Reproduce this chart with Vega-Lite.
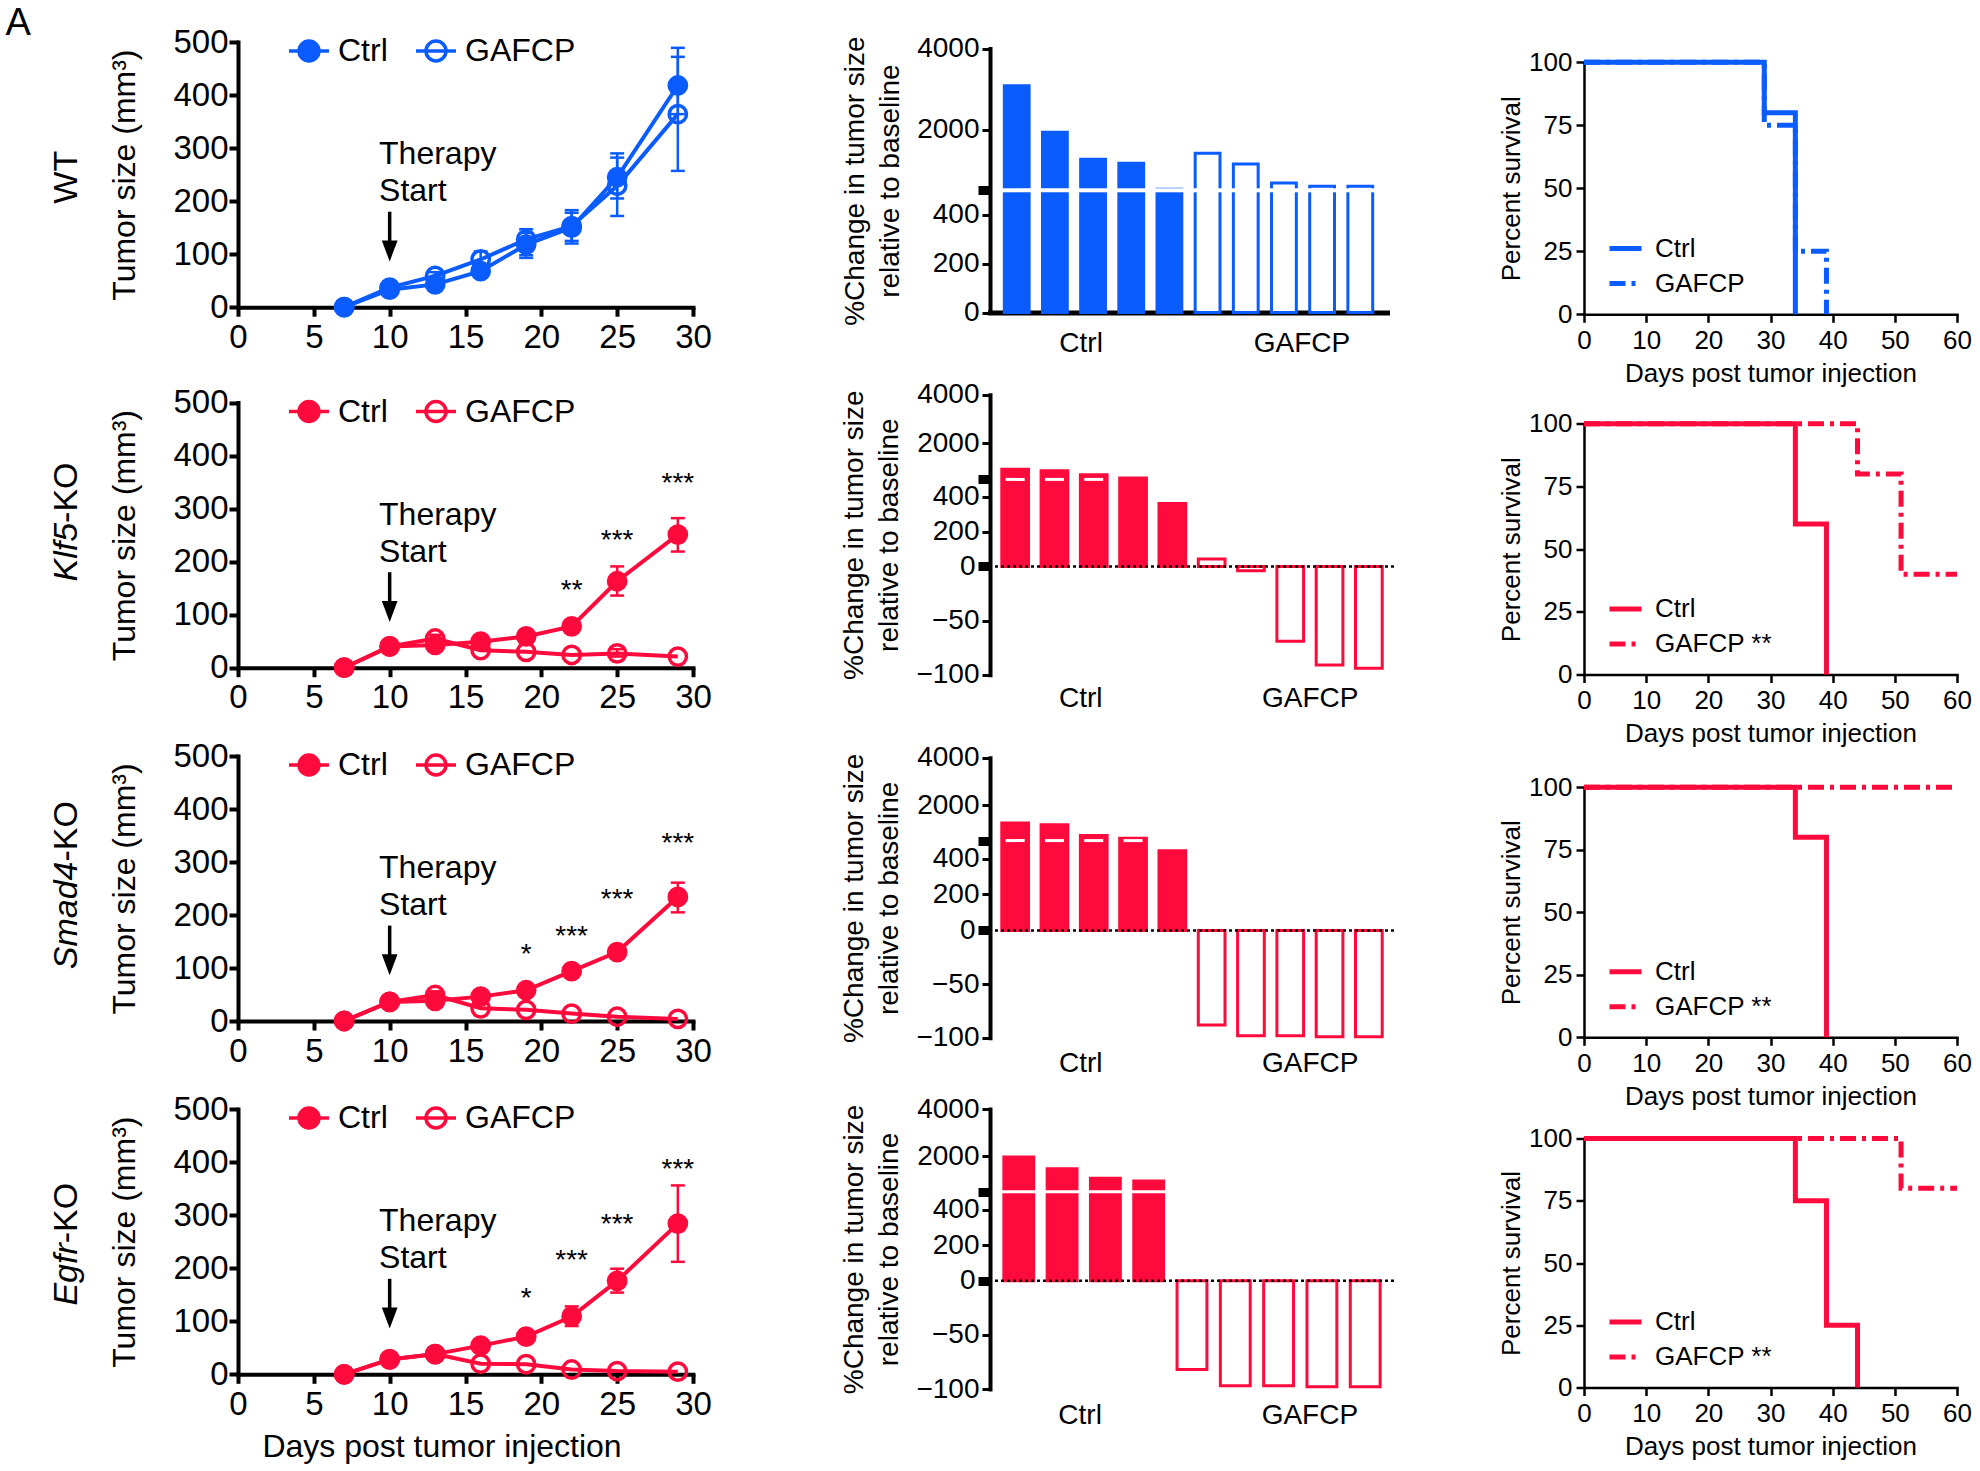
{
 "$schema": "https://vega.github.io/schema/vega-lite/v6.json",
 "padding": {"left": 5, "top": 5, "right": 5, "bottom": 5},
 "background": "white",
 "config": {
  "view": {"stroke": null},
  "font": "Liberation Sans",
  "axis": {"grid": false, "labelFont": "Liberation Sans", "titleFont": "Liberation Sans", "titleFontWeight": "normal", "labelColor": "black", "titleColor": "black", "domainColor": "black", "tickColor": "black", "domainCap": "square", "labelOverlap": false},
  "legend": {"labelFont": "Liberation Sans", "labelColor": "black"},
  "text": {"font": "Liberation Sans", "color": "black"}
 },
 "spacing": 128,
 "resolve": {"scale": {"fill": "independent", "stroke": "independent", "strokeDash": "independent", "color": "independent"}, "legend": {"fill": "independent", "stroke": "independent", "strokeDash": "independent", "color": "independent"}},
 "hconcat": [
  {
   "spacing": 25,
   "resolve": {"scale": {"fill": "independent", "stroke": "independent", "strokeDash": "independent", "color": "independent"}, "legend": {"fill": "independent", "stroke": "independent", "strokeDash": "independent", "color": "independent"}},
   "vconcat": [
    {
     "width": 455, "height": 265.2,
     "data": {"values": [
      {"day": 7, "series": "Ctrl", "mean": 0},
      {"day": 10, "series": "Ctrl", "mean": 33},
      {"day": 13, "series": "Ctrl", "mean": 43, "lo": 36, "hi": 50},
      {"day": 16, "series": "Ctrl", "mean": 68, "lo": 60, "hi": 78},
      {"day": 19, "series": "Ctrl", "mean": 118, "lo": 98, "hi": 140},
      {"day": 22, "series": "Ctrl", "mean": 150, "lo": 125, "hi": 178},
      {"day": 25, "series": "Ctrl", "mean": 245, "lo": 205, "hi": 290},
      {"day": 29, "series": "Ctrl", "mean": 418, "lo": 364, "hi": 472},
      {"day": 7, "series": "GAFCP", "mean": 0},
      {"day": 10, "series": "GAFCP", "mean": 37},
      {"day": 13, "series": "GAFCP", "mean": 59, "lo": 52, "hi": 66},
      {"day": 16, "series": "GAFCP", "mean": 90, "lo": 76, "hi": 105},
      {"day": 19, "series": "GAFCP", "mean": 128, "lo": 93, "hi": 147},
      {"day": 22, "series": "GAFCP", "mean": 153, "lo": 120, "hi": 183},
      {"day": 25, "series": "GAFCP", "mean": 229, "lo": 172, "hi": 282},
      {"day": 29, "series": "GAFCP", "mean": 364, "lo": 257, "hi": 489}
     ]},
     "layer": [
      {"transform": [{"filter": "isValid(datum.lo)"}],
       "mark": {"type": "rule", "color": "#0B5CFF", "strokeWidth": 2.5},
       "encoding": {
        "x": {"field": "day", "type": "quantitative", "scale": {"domain": [0, 30], "nice": false}, "axis": {"values": [0, 5, 10, 15, 20, 25, 30], "title": null, "domainWidth": 4, "tickWidth": 4, "tickSize": 9, "labelFontSize": 33, "labelPadding": 5, "labelFlush": false}},
        "y": {"field": "lo", "type": "quantitative", "scale": {"domain": [0, 500], "nice": false}, "axis": {"values": [0, 100, 200, 300, 400, 500], "title": "Tumor size (mm³)", "domainWidth": 4, "tickWidth": 4, "tickSize": 9, "labelFontSize": 33, "labelPadding": 1, "titleFontSize": 32, "titlePadding": 31}},
        "y2": {"field": "hi"}}},
      {"transform": [{"filter": "isValid(datum.lo)"}],
       "mark": {"type": "tick", "orient": "horizontal", "color": "#0B5CFF", "thickness": 2.5, "size": 14, "opacity": 1},
       "encoding": {"x": {"field": "day", "type": "quantitative"}, "y": {"field": "lo", "type": "quantitative"}}},
      {"transform": [{"filter": "isValid(datum.lo)"}],
       "mark": {"type": "tick", "orient": "horizontal", "color": "#0B5CFF", "thickness": 2.5, "size": 14, "opacity": 1},
       "encoding": {"x": {"field": "day", "type": "quantitative"}, "y": {"field": "hi", "type": "quantitative"}}},
      {"mark": {"type": "line", "color": "#0B5CFF", "strokeWidth": 4},
       "encoding": {"x": {"field": "day", "type": "quantitative"}, "y": {"field": "mean", "type": "quantitative"}, "detail": {"field": "series"}}},
      {"mark": {"type": "point", "shape": "circle", "size": 300, "strokeWidth": 3.5, "opacity": 1},
       "encoding": {"x": {"field": "day", "type": "quantitative"}, "y": {"field": "mean", "type": "quantitative"},
        "fill": {"field": "series", "type": "nominal", "scale": {"domain": ["Ctrl", "GAFCP"], "range": ["#0B5CFF", "transparent"]}, "legend": {"orient": "none", "legendX": 55, "legendY": -7, "direction": "horizontal", "columns": 2, "title": null, "labelFontSize": 32, "symbolType": "M-2,0L2,0M-1,0A1,1,0,1,1,1,0A1,1,0,1,1,-1,0", "symbolSize": 400, "symbolStrokeWidth": 3.5, "labelOffset": 13, "columnPadding": 21, "padding": 0, "labelLimit": 0}},
        "stroke": {"field": "series", "type": "nominal", "scale": {"domain": ["Ctrl", "GAFCP"], "range": ["#0B5CFF", "#0B5CFF"]}, "legend": {"orient": "none", "legendX": 55, "legendY": -7, "direction": "horizontal", "columns": 2, "title": null, "labelFontSize": 32, "symbolType": "M-2,0L2,0M-1,0A1,1,0,1,1,1,0A1,1,0,1,1,-1,0", "symbolSize": 400, "symbolStrokeWidth": 3.5, "labelOffset": 13, "columnPadding": 21, "padding": 0, "labelLimit": 0}}}},
      {"data": {"values": [{"t": "Therapy Start"}]},
       "mark": {"type": "text", "align": "left", "baseline": "middle", "fontSize": 32, "lineHeight": 37, "text": ["Therapy", "Start"]},
       "encoding": {"x": {"datum": 9.3}, "y": {"datum": 288}}},
      {"data": {"values": [{"t": "arrow"}]},
       "mark": {"type": "rule", "strokeWidth": 3.5, "color": "black"},
       "encoding": {"x": {"datum": 10}, "y": {"datum": 180}, "y2": {"datum": 115}}},
      {"data": {"values": [{"t": "arrow"}]},
       "mark": {"type": "point", "shape": "M-0.75,-1L0.75,-1L0,1Z", "size": 441, "filled": true, "color": "black", "opacity": 1},
       "encoding": {"x": {"datum": 10}, "y": {"datum": 106}}},
      {"data": {"values": [{"label": "WT"}]},
       "mark": {"type": "text", "angle": 270, "fontSize": 34, "align": "center", "baseline": "middle"},
       "encoding": {"x": {"datum": -11.3}, "y": {"datum": 245}, "text": {"field": "label"}}},
      {"data": {"values": [{"label": "A"}]},
       "mark": {"type": "text", "fontSize": 38, "align": "left", "baseline": "top"},
       "encoding": {"x": {"datum": -15.33}, "y": {"datum": 569}, "text": {"field": "label"}}}
     ]
    },
    {
     "width": 455, "height": 287.7,
     "data": {"values": [
      {"day": 7, "series": "Ctrl", "mean": 0},
      {"day": 10, "series": "Ctrl", "mean": 40},
      {"day": 13, "series": "Ctrl", "mean": 43},
      {"day": 16, "series": "Ctrl", "mean": 49},
      {"day": 19, "series": "Ctrl", "mean": 59, "lo": 52, "hi": 66},
      {"day": 22, "series": "Ctrl", "mean": 78, "lo": 70, "hi": 86},
      {"day": 25, "series": "Ctrl", "mean": 163, "lo": 136, "hi": 191},
      {"day": 29, "series": "Ctrl", "mean": 251, "lo": 219, "hi": 282},
      {"day": 7, "series": "GAFCP", "mean": 0},
      {"day": 10, "series": "GAFCP", "mean": 40},
      {"day": 13, "series": "GAFCP", "mean": 55, "lo": 48, "hi": 62},
      {"day": 16, "series": "GAFCP", "mean": 33},
      {"day": 19, "series": "GAFCP", "mean": 30},
      {"day": 22, "series": "GAFCP", "mean": 24},
      {"day": 25, "series": "GAFCP", "mean": 27, "lo": 21, "hi": 35},
      {"day": 29, "series": "GAFCP", "mean": 21}
     ]},
     "layer": [
      {"transform": [{"filter": "isValid(datum.lo)"}],
       "mark": {"type": "rule", "color": "#FF0A3C", "strokeWidth": 2.5},
       "encoding": {
        "x": {"field": "day", "type": "quantitative", "scale": {"domain": [0, 30], "nice": false}, "axis": {"values": [0, 5, 10, 15, 20, 25, 30], "title": null, "domainWidth": 4, "tickWidth": 4, "tickSize": 9, "labelFontSize": 33, "labelPadding": 5, "labelFlush": false}},
        "y": {"field": "lo", "type": "quantitative", "scale": {"domain": [0, 500], "nice": false, "range": [287.7, 22.5]}, "axis": {"values": [0, 100, 200, 300, 400, 500], "title": "Tumor size (mm³)", "domainWidth": 4, "tickWidth": 4, "tickSize": 9, "labelFontSize": 33, "labelPadding": 1, "titleFontSize": 32, "titlePadding": 31}},
        "y2": {"field": "hi"}}},
      {"transform": [{"filter": "isValid(datum.lo)"}],
       "mark": {"type": "tick", "orient": "horizontal", "color": "#FF0A3C", "thickness": 2.5, "size": 14, "opacity": 1},
       "encoding": {"x": {"field": "day", "type": "quantitative"}, "y": {"field": "lo", "type": "quantitative"}}},
      {"transform": [{"filter": "isValid(datum.lo)"}],
       "mark": {"type": "tick", "orient": "horizontal", "color": "#FF0A3C", "thickness": 2.5, "size": 14, "opacity": 1},
       "encoding": {"x": {"field": "day", "type": "quantitative"}, "y": {"field": "hi", "type": "quantitative"}}},
      {"mark": {"type": "line", "color": "#FF0A3C", "strokeWidth": 4},
       "encoding": {"x": {"field": "day", "type": "quantitative"}, "y": {"field": "mean", "type": "quantitative"}, "detail": {"field": "series"}}},
      {"mark": {"type": "point", "shape": "circle", "size": 300, "strokeWidth": 3.5, "opacity": 1},
       "encoding": {"x": {"field": "day", "type": "quantitative"}, "y": {"field": "mean", "type": "quantitative"},
        "fill": {"field": "series", "type": "nominal", "scale": {"domain": ["Ctrl", "GAFCP"], "range": ["#FF0A3C", "transparent"]}, "legend": {"orient": "none", "legendX": 55, "legendY": 15.5, "direction": "horizontal", "columns": 2, "title": null, "labelFontSize": 32, "symbolType": "M-2,0L2,0M-1,0A1,1,0,1,1,1,0A1,1,0,1,1,-1,0", "symbolSize": 400, "symbolStrokeWidth": 3.5, "labelOffset": 13, "columnPadding": 21, "padding": 0, "labelLimit": 0}},
        "stroke": {"field": "series", "type": "nominal", "scale": {"domain": ["Ctrl", "GAFCP"], "range": ["#FF0A3C", "#FF0A3C"]}, "legend": {"orient": "none", "legendX": 55, "legendY": 15.5, "direction": "horizontal", "columns": 2, "title": null, "labelFontSize": 32, "symbolType": "M-2,0L2,0M-1,0A1,1,0,1,1,1,0A1,1,0,1,1,-1,0", "symbolSize": 400, "symbolStrokeWidth": 3.5, "labelOffset": 13, "columnPadding": 21, "padding": 0, "labelLimit": 0}}}},
      {"data": {"values": [{"day": 22, "sy": 130, "label": "**"}, {"day": 25, "sy": 224, "label": "***"}, {"day": 29, "sy": 331, "label": "***"}]},
       "mark": {"type": "text", "fontSize": 28, "align": "center", "baseline": "alphabetic"},
       "encoding": {"x": {"field": "day", "type": "quantitative"}, "y": {"field": "sy", "type": "quantitative"}, "text": {"field": "label"}}},
      {"data": {"values": [{"t": "Therapy Start"}]},
       "mark": {"type": "text", "align": "left", "baseline": "middle", "fontSize": 32, "lineHeight": 37, "text": ["Therapy", "Start"]},
       "encoding": {"x": {"datum": 9.3}, "y": {"datum": 288}}},
      {"data": {"values": [{"t": "arrow"}]},
       "mark": {"type": "rule", "strokeWidth": 3.5, "color": "black"},
       "encoding": {"x": {"datum": 10}, "y": {"datum": 180}, "y2": {"datum": 115}}},
      {"data": {"values": [{"t": "arrow"}]},
       "mark": {"type": "point", "shape": "M-0.75,-1L0.75,-1L0,1Z", "size": 441, "filled": true, "color": "black", "opacity": 1},
       "encoding": {"x": {"datum": 10}, "y": {"datum": 106}}},
      {"data": {"values": [{"label": "Klf5"}]},
       "mark": {"type": "text", "angle": 270, "fontSize": 34, "fontStyle": "italic", "align": "right", "baseline": "middle"},
       "encoding": {"x": {"datum": -11.3}, "y": {"datum": 273}, "text": {"field": "label"}}},
      {"data": {"values": [{"label": "-KO"}]},
       "mark": {"type": "text", "angle": 270, "fontSize": 34, "align": "left", "baseline": "middle"},
       "encoding": {"x": {"datum": -11.3}, "y": {"datum": 273}, "text": {"field": "label"}}}
     ]
    },
    {
     "width": 455, "height": 265,
     "data": {"values": [
      {"day": 7, "series": "Ctrl", "mean": 0},
      {"day": 10, "series": "Ctrl", "mean": 36},
      {"day": 13, "series": "Ctrl", "mean": 38},
      {"day": 16, "series": "Ctrl", "mean": 46},
      {"day": 19, "series": "Ctrl", "mean": 58, "lo": 50, "hi": 66},
      {"day": 22, "series": "Ctrl", "mean": 94, "lo": 86, "hi": 102},
      {"day": 25, "series": "Ctrl", "mean": 130, "lo": 121, "hi": 139},
      {"day": 29, "series": "Ctrl", "mean": 234, "lo": 205, "hi": 261},
      {"day": 7, "series": "GAFCP", "mean": 0},
      {"day": 10, "series": "GAFCP", "mean": 36},
      {"day": 13, "series": "GAFCP", "mean": 49, "lo": 42, "hi": 56},
      {"day": 16, "series": "GAFCP", "mean": 24},
      {"day": 19, "series": "GAFCP", "mean": 21},
      {"day": 22, "series": "GAFCP", "mean": 14},
      {"day": 25, "series": "GAFCP", "mean": 8},
      {"day": 29, "series": "GAFCP", "mean": 4}
     ]},
     "layer": [
      {"transform": [{"filter": "isValid(datum.lo)"}],
       "mark": {"type": "rule", "color": "#FF0A3C", "strokeWidth": 2.5},
       "encoding": {
        "x": {"field": "day", "type": "quantitative", "scale": {"domain": [0, 30], "nice": false}, "axis": {"values": [0, 5, 10, 15, 20, 25, 30], "title": null, "domainWidth": 4, "tickWidth": 4, "tickSize": 9, "labelFontSize": 33, "labelPadding": 5, "labelFlush": false}},
        "y": {"field": "lo", "type": "quantitative", "scale": {"domain": [0, 500], "nice": false}, "axis": {"values": [0, 100, 200, 300, 400, 500], "title": "Tumor size (mm³)", "domainWidth": 4, "tickWidth": 4, "tickSize": 9, "labelFontSize": 33, "labelPadding": 1, "titleFontSize": 32, "titlePadding": 31}},
        "y2": {"field": "hi"}}},
      {"transform": [{"filter": "isValid(datum.lo)"}],
       "mark": {"type": "tick", "orient": "horizontal", "color": "#FF0A3C", "thickness": 2.5, "size": 14, "opacity": 1},
       "encoding": {"x": {"field": "day", "type": "quantitative"}, "y": {"field": "lo", "type": "quantitative"}}},
      {"transform": [{"filter": "isValid(datum.lo)"}],
       "mark": {"type": "tick", "orient": "horizontal", "color": "#FF0A3C", "thickness": 2.5, "size": 14, "opacity": 1},
       "encoding": {"x": {"field": "day", "type": "quantitative"}, "y": {"field": "hi", "type": "quantitative"}}},
      {"mark": {"type": "line", "color": "#FF0A3C", "strokeWidth": 4},
       "encoding": {"x": {"field": "day", "type": "quantitative"}, "y": {"field": "mean", "type": "quantitative"}, "detail": {"field": "series"}}},
      {"mark": {"type": "point", "shape": "circle", "size": 300, "strokeWidth": 3.5, "opacity": 1},
       "encoding": {"x": {"field": "day", "type": "quantitative"}, "y": {"field": "mean", "type": "quantitative"},
        "fill": {"field": "series", "type": "nominal", "scale": {"domain": ["Ctrl", "GAFCP"], "range": ["#FF0A3C", "transparent"]}, "legend": {"orient": "none", "legendX": 55, "legendY": -7, "direction": "horizontal", "columns": 2, "title": null, "labelFontSize": 32, "symbolType": "M-2,0L2,0M-1,0A1,1,0,1,1,1,0A1,1,0,1,1,-1,0", "symbolSize": 400, "symbolStrokeWidth": 3.5, "labelOffset": 13, "columnPadding": 21, "padding": 0, "labelLimit": 0}},
        "stroke": {"field": "series", "type": "nominal", "scale": {"domain": ["Ctrl", "GAFCP"], "range": ["#FF0A3C", "#FF0A3C"]}, "legend": {"orient": "none", "legendX": 55, "legendY": -7, "direction": "horizontal", "columns": 2, "title": null, "labelFontSize": 32, "symbolType": "M-2,0L2,0M-1,0A1,1,0,1,1,1,0A1,1,0,1,1,-1,0", "symbolSize": 400, "symbolStrokeWidth": 3.5, "labelOffset": 13, "columnPadding": 21, "padding": 0, "labelLimit": 0}}}},
      {"data": {"values": [{"day": 19, "sy": 110, "label": "*"}, {"day": 22, "sy": 144, "label": "***"}, {"day": 25, "sy": 213, "label": "***"}, {"day": 29, "sy": 318, "label": "***"}]},
       "mark": {"type": "text", "fontSize": 28, "align": "center", "baseline": "alphabetic"},
       "encoding": {"x": {"field": "day", "type": "quantitative"}, "y": {"field": "sy", "type": "quantitative"}, "text": {"field": "label"}}},
      {"data": {"values": [{"t": "Therapy Start"}]},
       "mark": {"type": "text", "align": "left", "baseline": "middle", "fontSize": 32, "lineHeight": 37, "text": ["Therapy", "Start"]},
       "encoding": {"x": {"datum": 9.3}, "y": {"datum": 288}}},
      {"data": {"values": [{"t": "arrow"}]},
       "mark": {"type": "rule", "strokeWidth": 3.5, "color": "black"},
       "encoding": {"x": {"datum": 10}, "y": {"datum": 180}, "y2": {"datum": 115}}},
      {"data": {"values": [{"t": "arrow"}]},
       "mark": {"type": "point", "shape": "M-0.75,-1L0.75,-1L0,1Z", "size": 441, "filled": true, "color": "black", "opacity": 1},
       "encoding": {"x": {"datum": 10}, "y": {"datum": 106}}},
      {"data": {"values": [{"label": "Smad4"}]},
       "mark": {"type": "text", "angle": 270, "fontSize": 34, "fontStyle": "italic", "align": "right", "baseline": "middle"},
       "encoding": {"x": {"datum": -11.3}, "y": {"datum": 301}, "text": {"field": "label"}}},
      {"data": {"values": [{"label": "-KO"}]},
       "mark": {"type": "text", "angle": 270, "fontSize": 34, "align": "left", "baseline": "middle"},
       "encoding": {"x": {"datum": -11.3}, "y": {"datum": 301}, "text": {"field": "label"}}}
     ]
    },
    {
     "width": 455, "height": 265.3,
     "data": {"values": [
      {"day": 7, "series": "Ctrl", "mean": 0},
      {"day": 10, "series": "Ctrl", "mean": 28},
      {"day": 13, "series": "Ctrl", "mean": 38, "lo": 31, "hi": 45},
      {"day": 16, "series": "Ctrl", "mean": 54, "lo": 46, "hi": 62},
      {"day": 19, "series": "Ctrl", "mean": 71, "lo": 63, "hi": 79},
      {"day": 22, "series": "Ctrl", "mean": 109, "lo": 91, "hi": 128},
      {"day": 25, "series": "Ctrl", "mean": 176, "lo": 154, "hi": 199},
      {"day": 29, "series": "Ctrl", "mean": 284, "lo": 212, "hi": 356},
      {"day": 7, "series": "GAFCP", "mean": 0},
      {"day": 10, "series": "GAFCP", "mean": 28},
      {"day": 13, "series": "GAFCP", "mean": 38},
      {"day": 16, "series": "GAFCP", "mean": 20},
      {"day": 19, "series": "GAFCP", "mean": 19},
      {"day": 22, "series": "GAFCP", "mean": 9},
      {"day": 25, "series": "GAFCP", "mean": 6},
      {"day": 29, "series": "GAFCP", "mean": 5}
     ]},
     "layer": [
      {"transform": [{"filter": "isValid(datum.lo)"}],
       "mark": {"type": "rule", "color": "#FF0A3C", "strokeWidth": 2.5},
       "encoding": {
        "x": {"field": "day", "type": "quantitative", "scale": {"domain": [0, 30], "nice": false}, "axis": {"values": [0, 5, 10, 15, 20, 25, 30], "title": "Days post tumor injection", "titleFontSize": 32, "titlePadding": 10, "titleX": 203.5, "domainWidth": 4, "tickWidth": 4, "tickSize": 9, "labelFontSize": 33, "labelPadding": 5, "labelFlush": false}},
        "y": {"field": "lo", "type": "quantitative", "scale": {"domain": [0, 500], "nice": false}, "axis": {"values": [0, 100, 200, 300, 400, 500], "title": "Tumor size (mm³)", "domainWidth": 4, "tickWidth": 4, "tickSize": 9, "labelFontSize": 33, "labelPadding": 1, "titleFontSize": 32, "titlePadding": 31}},
        "y2": {"field": "hi"}}},
      {"transform": [{"filter": "isValid(datum.lo)"}],
       "mark": {"type": "tick", "orient": "horizontal", "color": "#FF0A3C", "thickness": 2.5, "size": 14, "opacity": 1},
       "encoding": {"x": {"field": "day", "type": "quantitative"}, "y": {"field": "lo", "type": "quantitative"}}},
      {"transform": [{"filter": "isValid(datum.lo)"}],
       "mark": {"type": "tick", "orient": "horizontal", "color": "#FF0A3C", "thickness": 2.5, "size": 14, "opacity": 1},
       "encoding": {"x": {"field": "day", "type": "quantitative"}, "y": {"field": "hi", "type": "quantitative"}}},
      {"mark": {"type": "line", "color": "#FF0A3C", "strokeWidth": 4},
       "encoding": {"x": {"field": "day", "type": "quantitative"}, "y": {"field": "mean", "type": "quantitative"}, "detail": {"field": "series"}}},
      {"mark": {"type": "point", "shape": "circle", "size": 300, "strokeWidth": 3.5, "opacity": 1},
       "encoding": {"x": {"field": "day", "type": "quantitative"}, "y": {"field": "mean", "type": "quantitative"},
        "fill": {"field": "series", "type": "nominal", "scale": {"domain": ["Ctrl", "GAFCP"], "range": ["#FF0A3C", "transparent"]}, "legend": {"orient": "none", "legendX": 55, "legendY": -7, "direction": "horizontal", "columns": 2, "title": null, "labelFontSize": 32, "symbolType": "M-2,0L2,0M-1,0A1,1,0,1,1,1,0A1,1,0,1,1,-1,0", "symbolSize": 400, "symbolStrokeWidth": 3.5, "labelOffset": 13, "columnPadding": 21, "padding": 0, "labelLimit": 0}},
        "stroke": {"field": "series", "type": "nominal", "scale": {"domain": ["Ctrl", "GAFCP"], "range": ["#FF0A3C", "#FF0A3C"]}, "legend": {"orient": "none", "legendX": 55, "legendY": -7, "direction": "horizontal", "columns": 2, "title": null, "labelFontSize": 32, "symbolType": "M-2,0L2,0M-1,0A1,1,0,1,1,1,0A1,1,0,1,1,-1,0", "symbolSize": 400, "symbolStrokeWidth": 3.5, "labelOffset": 13, "columnPadding": 21, "padding": 0, "labelLimit": 0}}}},
      {"data": {"values": [{"day": 19, "sy": 127, "label": "*"}, {"day": 22, "sy": 198, "label": "***"}, {"day": 25, "sy": 266, "label": "***"}, {"day": 29, "sy": 370, "label": "***"}]},
       "mark": {"type": "text", "fontSize": 28, "align": "center", "baseline": "alphabetic"},
       "encoding": {"x": {"field": "day", "type": "quantitative"}, "y": {"field": "sy", "type": "quantitative"}, "text": {"field": "label"}}},
      {"data": {"values": [{"t": "Therapy Start"}]},
       "mark": {"type": "text", "align": "left", "baseline": "middle", "fontSize": 32, "lineHeight": 37, "text": ["Therapy", "Start"]},
       "encoding": {"x": {"datum": 9.3}, "y": {"datum": 288}}},
      {"data": {"values": [{"t": "arrow"}]},
       "mark": {"type": "rule", "strokeWidth": 3.5, "color": "black"},
       "encoding": {"x": {"datum": 10}, "y": {"datum": 180}, "y2": {"datum": 115}}},
      {"data": {"values": [{"t": "arrow"}]},
       "mark": {"type": "point", "shape": "M-0.75,-1L0.75,-1L0,1Z", "size": 441, "filled": true, "color": "black", "opacity": 1},
       "encoding": {"x": {"datum": 10}, "y": {"datum": 106}}},
      {"data": {"values": [{"label": "Egfr"}]},
       "mark": {"type": "text", "angle": 270, "fontSize": 34, "fontStyle": "italic", "align": "right", "baseline": "middle"},
       "encoding": {"x": {"datum": -11.3}, "y": {"datum": 247}, "text": {"field": "label"}}},
      {"data": {"values": [{"label": "-KO"}]},
       "mark": {"type": "text", "angle": 270, "fontSize": 34, "align": "left", "baseline": "middle"},
       "encoding": {"x": {"datum": -11.3}, "y": {"datum": 247}, "text": {"field": "label"}}}
     ]
    }
   ]
  },
  {
   "spacing": 102,
   "resolve": {"scale": {"fill": "independent", "stroke": "independent", "strokeDash": "independent", "color": "independent"}, "legend": {"fill": "independent", "stroke": "independent", "strokeDash": "independent", "color": "independent"}},
   "hconcat": [
    {
     "spacing": 17,
     "resolve": {"scale": {"fill": "independent", "stroke": "independent", "strokeDash": "independent", "color": "independent"}, "legend": {"fill": "independent", "stroke": "independent", "strokeDash": "independent", "color": "independent"}},
     "vconcat": [
      {
       "width": 397, "height": 270.6,
       "data": {"values": [
        {"id": "c1", "group": "Ctrl", "value": 3083}, {"id": "c2", "group": "Ctrl", "value": 1933}, {"id": "c3", "group": "Ctrl", "value": 1267}, {"id": "c4", "group": "Ctrl", "value": 1167}, {"id": "c5", "group": "Ctrl", "value": 525},
        {"id": "g1", "group": "GAFCP", "value": 1417}, {"id": "g2", "group": "GAFCP", "value": 1150}, {"id": "g3", "group": "GAFCP", "value": 683}, {"id": "g4", "group": "GAFCP", "value": 600}, {"id": "g5", "group": "GAFCP", "value": 600}
       ]},
       "layer": [
        {"mark": {"type": "bar", "stroke": "#0B5CFF", "strokeWidth": 3},
         "encoding": {
          "x": {"field": "id", "type": "nominal", "sort": null, "scale": {"paddingInner": 0.35, "paddingOuter": 0.375}, "axis": {"title": null, "ticks": false, "tickSize": 0, "domainWidth": 5, "labelAngle": 0, "labelFontSize": 28, "labelPadding": 17, "labelLimit": 0, "labelExpr": "datum.value == 'c3' ? 'Ctrl' : datum.value == 'g3' ? 'GAFCP' : ''", "labelOffset": {"condition": {"test": "datum.value == 'c3'", "value": -12}, "value": 18}}},
          "y": {"field": "value", "type": "quantitative", "scale": {"domain": [0, 500, 4000], "range": [270.6, 148.3, 6.6], "nice": false, "zero": false}, "axis": {"values": [0, 200, 400, 500, 2000, 4000], "tickCount": 20, "format": "d", "labelOverlap": false, "labelExpr": "datum.value == 500 ? '' : datum.label", "title": ["%Change in tumor size", "relative to baseline"], "titleFontSize": 28, "titleLineHeight": 35, "titlePadding": 12, "domainWidth": 4, "tickWidth": {"condition": {"test": "datum.value == 500", "value": 9}, "value": 3}, "tickSize": {"condition": {"test": "datum.value == 500", "value": 12}, "value": 8}, "labelFontSize": 28, "labelPadding": 3}},
          "y2": {"datum": 0},
          "fill": {"field": "group", "type": "nominal", "scale": {"domain": ["Ctrl", "GAFCP"], "range": ["#0B5CFF", "white"]}, "legend": null}}},
        {"transform": [{"filter": "datum.value > 500"}],
         "mark": {"type": "tick", "orient": "horizontal", "color": "white", "thickness": 4, "size": 30, "opacity": 1},
         "encoding": {"x": {"field": "id", "type": "nominal", "sort": null}, "y": {"datum": 500}}}
       ]
      },
      {
       "width": 404, "height": 299.7,
       "data": {"values": [
        {"id": "c1", "group": "Ctrl", "value": 923}, {"id": "c2", "group": "Ctrl", "value": 853}, {"id": "c3", "group": "Ctrl", "value": 688}, {"id": "c4", "group": "Ctrl", "value": 560}, {"id": "c5", "group": "Ctrl", "value": 361},
        {"id": "g1", "group": "GAFCP", "value": 43}, {"id": "g2", "group": "GAFCP", "value": -4}, {"id": "g3", "group": "GAFCP", "value": -69}, {"id": "g4", "group": "GAFCP", "value": -91}, {"id": "g5", "group": "GAFCP", "value": -94}
       ]},
       "layer": [
        {"mark": {"type": "bar", "stroke": "#FF0A3C", "strokeWidth": 3},
         "encoding": {
          "x": {"field": "id", "type": "nominal", "sort": null, "scale": {"paddingInner": 0.32, "paddingOuter": 0.3}, "axis": {"title": null, "ticks": false, "tickSize": 0, "domain": false, "labelAngle": 0, "labelFontSize": 28, "labelPadding": 10, "labelLimit": 0, "labelExpr": "datum.value == 'c3' ? 'Ctrl' : datum.value == 'g3' ? 'GAFCP' : ''", "labelOffset": {"condition": {"test": "datum.value == 'c3'", "value": -13}, "value": 20}}},
          "y": {"field": "value", "type": "quantitative", "scale": {"domain": [-100, 0, 500, 4000], "range": [299.7, 191.4, 104.4, 19.7], "nice": false, "zero": false}, "axis": {"values": [-100, -50, 0, 200, 400, 500, 2000, 4000], "tickCount": 20, "format": "d", "labelOverlap": false, "labelExpr": "datum.value == 500 ? '' : datum.label", "title": ["%Change in tumor size", "relative to baseline"], "titleFontSize": 28, "titleLineHeight": 35, "titlePadding": 12, "domainWidth": 4, "tickWidth": {"condition": {"test": "datum.value == 500 || datum.value == 0", "value": 9}, "value": 3}, "tickSize": {"condition": {"test": "datum.value == 500 || datum.value == 0", "value": 12}, "value": 8}, "labelFontSize": 28, "labelPadding": 3}},
          "y2": {"datum": 0},
          "fill": {"field": "group", "type": "nominal", "scale": {"domain": ["Ctrl", "GAFCP"], "range": ["#FF0A3C", "white"]}, "legend": null}}},
        {"transform": [{"filter": "datum.value > 600"}],
         "mark": {"type": "tick", "orient": "horizontal", "color": "white", "thickness": 3, "size": 19, "opacity": 1},
         "encoding": {"x": {"field": "id", "type": "nominal", "sort": null}, "y": {"datum": 500}}},
        {"data": {"values": [{"z": 0}]},
         "mark": {"type": "rule", "strokeDash": [3, 3], "strokeWidth": 2.5, "color": "black"},
         "encoding": {"y": {"datum": 0}}}
       ]
      },
      {
       "width": 404, "height": 307.8,
       "data": {"values": [
        {"id": "c1", "group": "Ctrl", "value": 1240}, {"id": "c2", "group": "Ctrl", "value": 1167}, {"id": "c3", "group": "Ctrl", "value": 712}, {"id": "c4", "group": "Ctrl", "value": 597}, {"id": "c5", "group": "Ctrl", "value": 443},
        {"id": "g1", "group": "GAFCP", "value": -88}, {"id": "g2", "group": "GAFCP", "value": -98}, {"id": "g3", "group": "GAFCP", "value": -98}, {"id": "g4", "group": "GAFCP", "value": -99}, {"id": "g5", "group": "GAFCP", "value": -99}
       ]},
       "layer": [
        {"mark": {"type": "bar", "stroke": "#FF0A3C", "strokeWidth": 3},
         "encoding": {
          "x": {"field": "id", "type": "nominal", "sort": null, "scale": {"paddingInner": 0.32, "paddingOuter": 0.3}, "axis": {"title": null, "ticks": false, "tickSize": 0, "domain": false, "labelAngle": 0, "labelFontSize": 28, "labelPadding": 12, "labelLimit": 0, "labelExpr": "datum.value == 'c3' ? 'Ctrl' : datum.value == 'g3' ? 'GAFCP' : ''", "labelOffset": {"condition": {"test": "datum.value == 'c3'", "value": -13}, "value": 20}}},
          "y": {"field": "value", "type": "quantitative", "scale": {"domain": [-100, 0, 500, 4000], "range": [307.8, 200.4, 110.6, 27.8], "nice": false, "zero": false}, "axis": {"values": [-100, -50, 0, 200, 400, 500, 2000, 4000], "tickCount": 20, "format": "d", "labelOverlap": false, "labelExpr": "datum.value == 500 ? '' : datum.label", "title": ["%Change in tumor size", "relative to baseline"], "titleFontSize": 28, "titleLineHeight": 35, "titlePadding": 12, "domainWidth": 4, "tickWidth": {"condition": {"test": "datum.value == 500 || datum.value == 0", "value": 9}, "value": 3}, "tickSize": {"condition": {"test": "datum.value == 500 || datum.value == 0", "value": 12}, "value": 8}, "labelFontSize": 28, "labelPadding": 3}},
          "y2": {"datum": 0},
          "fill": {"field": "group", "type": "nominal", "scale": {"domain": ["Ctrl", "GAFCP"], "range": ["#FF0A3C", "white"]}, "legend": null}}},
        {"transform": [{"filter": "datum.value > 550"}],
         "mark": {"type": "tick", "orient": "horizontal", "color": "white", "thickness": 3, "size": 19, "opacity": 1},
         "encoding": {"x": {"field": "id", "type": "nominal", "sort": null}, "y": {"datum": 500}}},
        {"data": {"values": [{"z": 0}]},
         "mark": {"type": "rule", "strokeDash": [3, 3], "strokeWidth": 2.5, "color": "black"},
         "encoding": {"y": {"datum": 0}}}
       ]
      },
      {
       "width": 404, "height": 280,
       "data": {"values": [
        {"id": "c1", "group": "Ctrl", "value": 1970}, {"id": "c2", "group": "Ctrl", "value": 1473}, {"id": "c3", "group": "Ctrl", "value": 1071}, {"id": "c4", "group": "Ctrl", "value": 958},
        {"id": "g1", "group": "GAFCP", "value": -82}, {"id": "g2", "group": "GAFCP", "value": -97}, {"id": "g3", "group": "GAFCP", "value": -97}, {"id": "g4", "group": "GAFCP", "value": -98}, {"id": "g5", "group": "GAFCP", "value": -98}
       ]},
       "layer": [
        {"mark": {"type": "bar", "stroke": "#FF0A3C", "strokeWidth": 3},
         "encoding": {
          "x": {"field": "id", "type": "nominal", "sort": null, "scale": {"paddingInner": 0.31, "paddingOuter": 0.32}, "axis": {"title": null, "ticks": false, "tickSize": 0, "domain": false, "labelAngle": 0, "labelFontSize": 28, "labelPadding": 12, "labelLimit": 0, "labelExpr": "datum.value == 'c2' ? 'Ctrl' : datum.value == 'g4' ? 'GAFCP' : ''", "labelOffset": {"condition": {"test": "datum.value == 'c2'", "value": 18}, "value": -12}}},
          "y": {"field": "value", "type": "quantitative", "scale": {"domain": [-100, 0, 500, 4000], "range": [280, 171.7, 82.7, 0], "nice": false, "zero": false}, "axis": {"values": [-100, -50, 0, 200, 400, 500, 2000, 4000], "tickCount": 20, "format": "d", "labelOverlap": false, "labelExpr": "datum.value == 500 ? '' : datum.label", "title": ["%Change in tumor size", "relative to baseline"], "titleFontSize": 28, "titleLineHeight": 35, "titlePadding": 12, "domainWidth": 4, "tickWidth": {"condition": {"test": "datum.value == 500 || datum.value == 0", "value": 9}, "value": 3}, "tickSize": {"condition": {"test": "datum.value == 500 || datum.value == 0", "value": 12}, "value": 8}, "labelFontSize": 28, "labelPadding": 3}},
          "y2": {"datum": 0},
          "fill": {"field": "group", "type": "nominal", "scale": {"domain": ["Ctrl", "GAFCP"], "range": ["#FF0A3C", "white"]}, "legend": null}}},
        {"transform": [{"filter": "datum.value > 500"}],
         "mark": {"type": "tick", "orient": "horizontal", "color": "white", "thickness": 3, "size": 34, "opacity": 1},
         "encoding": {"x": {"field": "id", "type": "nominal", "sort": null}, "y": {"datum": 500}}},
        {"data": {"values": [{"z": 0}]},
         "mark": {"type": "rule", "strokeDash": [3, 3], "strokeWidth": 2.5, "color": "black"},
         "encoding": {"y": {"datum": 0}}}
       ]
      }
     ]
    },
    {
     "spacing": 15.5,
     "resolve": {"scale": {"fill": "independent", "stroke": "independent", "strokeDash": "independent", "color": "independent"}, "legend": {"fill": "independent", "stroke": "independent", "strokeDash": "independent", "color": "independent"}},
     "vconcat": [
      {
       "width": 373, "height": 272.3,
       "data": {"values": [
        {"day": 0, "pct": 100, "series": "Ctrl"}, {"day": 29, "pct": 80, "series": "Ctrl"}, {"day": 34, "pct": 0, "series": "Ctrl"},
        {"day": 0, "pct": 100, "series": "GAFCP"}, {"day": 29, "pct": 75, "series": "GAFCP"}, {"day": 34, "pct": 25, "series": "GAFCP"}, {"day": 39, "pct": 0, "series": "GAFCP"}
       ]},
       "mark": {"type": "line", "interpolate": "step-after", "strokeWidth": 5, "color": "#0B5CFF", "strokeCap": "butt"},
       "encoding": {
        "x": {"field": "day", "type": "quantitative", "scale": {"domain": [0, 60], "nice": false}, "axis": {"values": [0, 10, 20, 30, 40, 50, 60], "title": "Days post tumor injection", "domainWidth": 2.5, "tickWidth": 2.5, "tickSize": 8, "labelFontSize": 26, "labelPadding": 5, "titleFontSize": 26, "titlePadding": 7, "labelFlush": false}},
        "y": {"field": "pct", "type": "quantitative", "scale": {"domain": [0, 100], "nice": false, "range": [272.3, 20.3]}, "axis": {"values": [0, 25, 50, 75, 100], "title": "Percent survival", "domainWidth": 2.5, "tickWidth": 2.5, "tickSize": 8, "labelFontSize": 26, "labelPadding": 4, "titleFontSize": 26, "titlePadding": 4}},
        "strokeDash": {"field": "series", "type": "nominal", "scale": {"domain": ["Ctrl", "GAFCP"], "range": [[1, 0], [16, 6, 4, 6]]}, "legend": {"orient": "none", "legendX": 23, "legendY": 188, "direction": "vertical", "title": null, "labelFontSize": 26, "symbolType": "stroke", "symbolSize": 1024, "symbolStrokeWidth": 5, "symbolStrokeColor": "#0B5CFF", "labelOffset": 11, "rowPadding": 3, "padding": 0, "labelLimit": 0}}
       }
      },
      {
       "width": 373, "height": 272,
       "data": {"values": [
        {"day": 0, "pct": 100, "series": "Ctrl"}, {"day": 34, "pct": 60, "series": "Ctrl"}, {"day": 39, "pct": 0, "series": "Ctrl"},
        {"day": 0, "pct": 100, "series": "GAFCP"}, {"day": 44, "pct": 80, "series": "GAFCP"}, {"day": 51, "pct": 40, "series": "GAFCP"}, {"day": 60, "pct": 40, "series": "GAFCP"}
       ]},
       "mark": {"type": "line", "interpolate": "step-after", "strokeWidth": 5, "color": "#FF0A3C", "strokeCap": "butt"},
       "encoding": {
        "x": {"field": "day", "type": "quantitative", "scale": {"domain": [0, 60], "nice": false}, "axis": {"values": [0, 10, 20, 30, 40, 50, 60], "title": "Days post tumor injection", "domainWidth": 2.5, "tickWidth": 2.5, "tickSize": 8, "labelFontSize": 26, "labelPadding": 5, "titleFontSize": 26, "titlePadding": 7, "labelFlush": false}},
        "y": {"field": "pct", "type": "quantitative", "scale": {"domain": [0, 100], "nice": false, "range": [272, 21.3]}, "axis": {"values": [0, 25, 50, 75, 100], "title": "Percent survival", "domainWidth": 2.5, "tickWidth": 2.5, "tickSize": 8, "labelFontSize": 26, "labelPadding": 4, "titleFontSize": 26, "titlePadding": 4}},
        "strokeDash": {"field": "series", "type": "nominal", "scale": {"domain": ["Ctrl", "GAFCP"], "range": [[1, 0], [16, 6, 4, 6]]}, "legend": {"orient": "none", "legendX": 23, "legendY": 188, "direction": "vertical", "title": null, "labelFontSize": 26, "symbolType": "stroke", "symbolSize": 1024, "symbolStrokeWidth": 5, "symbolStrokeColor": "#FF0A3C", "labelOffset": 11, "rowPadding": 3, "padding": 0, "labelLimit": 0, "labelExpr": "datum.label == 'GAFCP' ? 'GAFCP  **' : datum.label"}}
       }
      },
      {
       "width": 373, "height": 275.3,
       "data": {"values": [
        {"day": 0, "pct": 100, "series": "Ctrl"}, {"day": 34, "pct": 80, "series": "Ctrl"}, {"day": 39, "pct": 0, "series": "Ctrl"},
        {"day": 0, "pct": 100, "series": "GAFCP"}, {"day": 60, "pct": 100, "series": "GAFCP"}
       ]},
       "mark": {"type": "line", "interpolate": "step-after", "strokeWidth": 5, "color": "#FF0A3C", "strokeCap": "butt"},
       "encoding": {
        "x": {"field": "day", "type": "quantitative", "scale": {"domain": [0, 60], "nice": false}, "axis": {"values": [0, 10, 20, 30, 40, 50, 60], "title": "Days post tumor injection", "domainWidth": 2.5, "tickWidth": 2.5, "tickSize": 8, "labelFontSize": 26, "labelPadding": 5, "titleFontSize": 26, "titlePadding": 7, "labelFlush": false}},
        "y": {"field": "pct", "type": "quantitative", "scale": {"domain": [0, 100], "nice": false, "range": [275.3, 25.3]}, "axis": {"values": [0, 25, 50, 75, 100], "title": "Percent survival", "domainWidth": 2.5, "tickWidth": 2.5, "tickSize": 8, "labelFontSize": 26, "labelPadding": 4, "titleFontSize": 26, "titlePadding": 4}},
        "strokeDash": {"field": "series", "type": "nominal", "scale": {"domain": ["Ctrl", "GAFCP"], "range": [[1, 0], [16, 6, 4, 6]]}, "legend": {"orient": "none", "legendX": 23, "legendY": 191.3, "direction": "vertical", "title": null, "labelFontSize": 26, "symbolType": "stroke", "symbolSize": 1024, "symbolStrokeWidth": 5, "symbolStrokeColor": "#FF0A3C", "labelOffset": 11, "rowPadding": 3, "padding": 0, "labelLimit": 0, "labelExpr": "datum.label == 'GAFCP' ? 'GAFCP  **' : datum.label"}}
       }
      },
      {
       "width": 373, "height": 249,
       "data": {"values": [
        {"day": 0, "pct": 100, "series": "Ctrl"}, {"day": 34, "pct": 75, "series": "Ctrl"}, {"day": 39, "pct": 25, "series": "Ctrl"}, {"day": 44, "pct": 0, "series": "Ctrl"},
        {"day": 0, "pct": 100, "series": "GAFCP"}, {"day": 51, "pct": 80, "series": "GAFCP"}, {"day": 60, "pct": 80, "series": "GAFCP"}
       ]},
       "mark": {"type": "line", "interpolate": "step-after", "strokeWidth": 5, "color": "#FF0A3C", "strokeCap": "butt"},
       "encoding": {
        "x": {"field": "day", "type": "quantitative", "scale": {"domain": [0, 60], "nice": false}, "axis": {"values": [0, 10, 20, 30, 40, 50, 60], "title": "Days post tumor injection", "domainWidth": 2.5, "tickWidth": 2.5, "tickSize": 8, "labelFontSize": 26, "labelPadding": 5, "titleFontSize": 26, "titlePadding": 7, "labelFlush": false}},
        "y": {"field": "pct", "type": "quantitative", "scale": {"domain": [0, 100], "nice": false}, "axis": {"values": [0, 25, 50, 75, 100], "title": "Percent survival", "domainWidth": 2.5, "tickWidth": 2.5, "tickSize": 8, "labelFontSize": 26, "labelPadding": 4, "titleFontSize": 26, "titlePadding": 4}},
        "strokeDash": {"field": "series", "type": "nominal", "scale": {"domain": ["Ctrl", "GAFCP"], "range": [[1, 0], [16, 6, 4, 6]]}, "legend": {"orient": "none", "legendX": 23, "legendY": 165, "direction": "vertical", "title": null, "labelFontSize": 26, "symbolType": "stroke", "symbolSize": 1024, "symbolStrokeWidth": 5, "symbolStrokeColor": "#FF0A3C", "labelOffset": 11, "rowPadding": 3, "padding": 0, "labelLimit": 0, "labelExpr": "datum.label == 'GAFCP' ? 'GAFCP  **' : datum.label"}}
       }
      }
     ]
    }
   ]
  }
 ]
}
